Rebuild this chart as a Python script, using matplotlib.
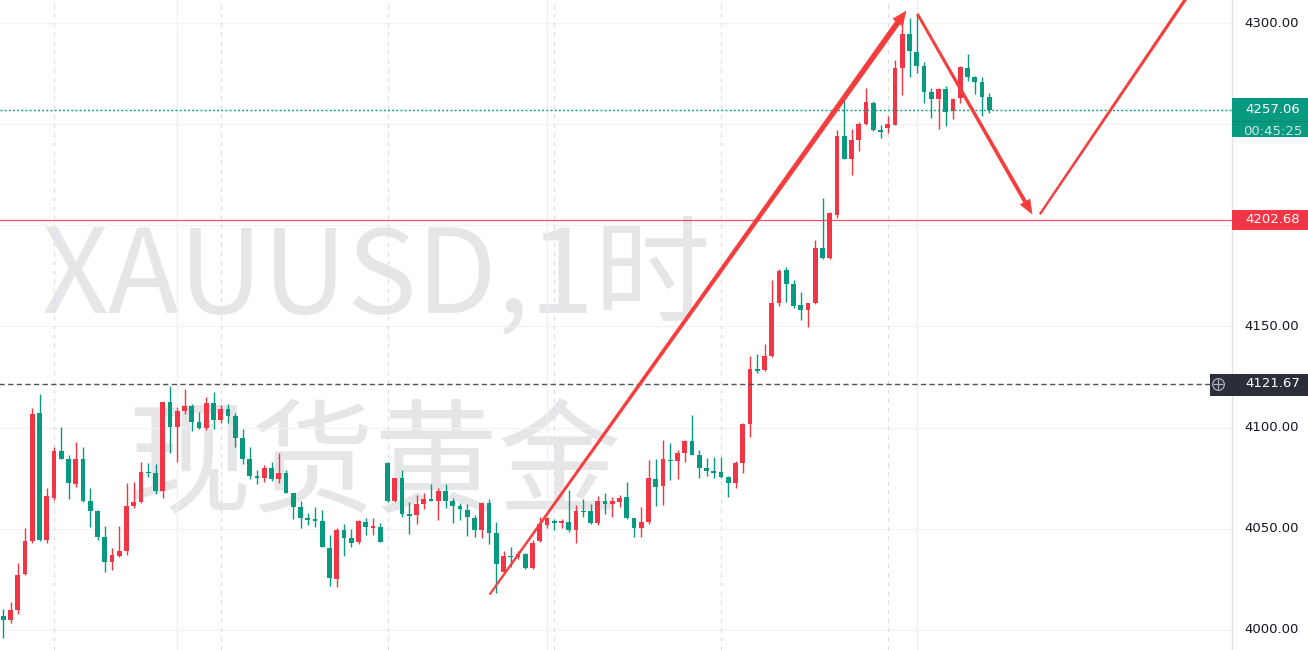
import numpy as np
import matplotlib
matplotlib.use("Agg")
import matplotlib.pyplot as plt
from matplotlib.patches import Polygon, Rectangle

plt.rcParams["lines.scale_dashes"] = False

# XAUUSD 1h candles, oldest first
opens = [4007.1, 4004.9, 4009.9, 4027.5, 4043.8, 4107.0, 4044.5, 4065.0, 4088.5, 4084.6,
         4072.3, 4084.7, 4063.6, 4059.0, 4046.1, 4033.8, 4036.4, 4039.0, 4061.3, 4063.4,
         4078.1, 4077.4, 4068.9, 4112.5, 4100.2, 4108.1, 4110.7, 4102.6, 4099.8, 4112.0,
         4103.8, 4109.1, 4105.9, 4094.7, 4084.4, 4076.1, 4075.3, 4079.9, 4074.5, 4077.8,
         4067.5, 4060.8, 4055.2, 4054.7, 4053.9, 4040.7, 4025.3, 4049.4, 4045.6, 4043.4,
         4053.6, 4050.6, 4051.1, 4082.7, 4063.6, 4075.0, 4057.2, 4056.8, 4062.5, 4064.7,
         4063.9, 4068.9, 4063.8, 4061.3, 4059.4, 4055.5, 4049.4, 4062.6, 4047.8, 4028.5,
         4036.6, 4036.2, 4037.4, 4030.8, 4044.0, 4051.9, 4054.0, 4053.0, 4053.5, 4049.4,
         4059.0, 4058.8, 4052.7, 4063.9, 4062.1, 4063.5, 4065.5, 4055.2, 4050.2, 4053.5,
         4074.8, 4071.0, 4084.0, 4083.5, 4087.3, 4093.4, 4086.4, 4079.9, 4078.7, 4078.2,
         4075.8, 4072.8, 4082.6, 4101.6, 4129.0, 4128.4, 4135.4, 4161.4, 4177.7, 4171.0,
         4160.5, 4158.1, 4161.4, 4189.0, 4183.7, 4205.0, 4244.2, 4232.8, 4242.2, 4250.1,
         4260.6, 4247.1, 4247.9, 4249.8, 4277.9, 4294.6, 4285.8, 4278.8, 4265.7, 4262.3,
         4267.2, 4256.7, 4262.8, 4277.9, 4273.1, 4271.0, 4263.3]
highs = [4010.2, 4013.7, 4032.9, 4050.6, 4109.6, 4116.6, 4070.0, 4090.6, 4100.2, 4086.5,
         4092.9, 4090.3, 4070.0, 4059.3, 4051.4, 4040.4, 4051.4, 4072.8, 4072.9, 4082.9,
         4082.7, 4082.0, 4112.8, 4120.6, 4110.4, 4119.3, 4111.5, 4107.6, 4115.3, 4117.5,
         4111.0, 4111.7, 4107.4, 4099.5, 4090.4, 4079.1, 4081.6, 4083.2, 4087.7, 4079.1,
         4067.5, 4063.8, 4058.0, 4061.0, 4059.3, 4047.0, 4050.3, 4052.4, 4049.8, 4054.4,
         4055.2, 4055.5, 4052.7, 4082.9, 4075.2, 4079.1, 4063.4, 4066.7, 4067.5, 4072.0,
         4070.0, 4072.2, 4065.1, 4062.6, 4062.1, 4056.8, 4063.4, 4064.6, 4053.5, 4039.2,
         4041.2, 4039.2, 4037.9, 4044.5, 4056.0, 4056.0, 4054.7, 4054.7, 4069.2, 4061.8,
         4064.7, 4062.3, 4066.2, 4067.5, 4065.9, 4066.7, 4073.0, 4055.4, 4060.6, 4084.0,
         4084.3, 4093.9, 4092.3, 4089.0, 4093.9, 4106.3, 4089.0, 4084.8, 4085.7, 4085.7,
         4076.1, 4083.5, 4102.5, 4135.4, 4136.4, 4141.3, 4173.0, 4178.4, 4179.6, 4173.0,
         4167.2, 4161.4, 4192.7, 4213.3, 4206.6, 4247.1, 4262.0, 4247.5, 4251.2, 4267.7,
         4261.6, 4249.6, 4254.0, 4281.7, 4303.9, 4302.3, 4304.5, 4280.9, 4267.7, 4267.7,
         4268.9, 4262.8, 4278.7, 4284.5, 4273.8, 4273.1, 4265.6]
lows = [3995.9, 4003.3, 4007.7, 4027.3, 4042.8, 4044.2, 4042.8, 4064.2, 4084.3, 4064.7,
        4070.5, 4063.4, 4051.1, 4044.5, 4028.5, 4029.6, 4035.9, 4037.1, 4060.5, 4062.9,
        4075.8, 4067.2, 4065.1, 4087.3, 4083.2, 4106.6, 4098.5, 4099.2, 4098.8, 4099.2,
        4102.5, 4102.5, 4090.6, 4082.2, 4074.5, 4072.2, 4073.3, 4073.6, 4072.8, 4067.9,
        4054.7, 4050.2, 4051.9, 4051.1, 4040.9, 4021.9, 4021.1, 4036.7, 4041.2, 4042.5,
        4047.1, 4047.0, 4043.5, 4063.4, 4063.4, 4056.0, 4047.4, 4052.2, 4059.6, 4063.7,
        4054.4, 4060.1, 4052.7, 4054.4, 4046.6, 4046.1, 4045.3, 4042.3, 4018.5, 4028.0,
        4031.3, 4034.9, 4030.1, 4030.0, 4043.6, 4050.2, 4049.4, 4050.2, 4048.6, 4042.8,
        4056.0, 4052.4, 4051.9, 4057.3, 4055.7, 4060.9, 4054.7, 4046.1, 4045.8, 4052.4,
        4061.3, 4061.8, 4074.1, 4074.6, 4083.2, 4086.5, 4075.3, 4076.1, 4074.9, 4075.3,
        4065.6, 4070.3, 4077.8, 4095.5, 4127.2, 4128.2, 4135.1, 4160.3, 4162.3, 4159.0,
        4153.2, 4149.9, 4160.9, 4183.2, 4183.5, 4203.5, 4232.6, 4224.9, 4236.9, 4249.6,
        4246.8, 4243.0, 4245.8, 4249.6, 4264.4, 4273.1, 4275.1, 4260.6, 4252.9, 4247.4,
        4249.3, 4252.6, 4260.3, 4271.5, 4264.9, 4254.2, 4255.7]
closes = [4004.8, 4009.9, 4027.3, 4044.0, 4106.8, 4044.5, 4066.2, 4088.5, 4084.5, 4072.5,
          4084.7, 4063.8, 4059.0, 4046.1, 4033.8, 4036.9, 4039.0, 4061.3, 4063.3, 4078.1,
          4077.4, 4068.9, 4112.5, 4100.2, 4108.2, 4110.7, 4102.6, 4100.0, 4112.0, 4103.8,
          4109.1, 4105.9, 4094.7, 4084.4, 4076.1, 4075.3, 4079.9, 4074.5, 4077.8, 4067.9,
          4061.0, 4055.2, 4054.5, 4054.0, 4040.9, 4025.5, 4049.4, 4045.6, 4043.2, 4053.9,
          4051.1, 4051.2, 4043.7, 4063.7, 4075.0, 4057.3, 4056.5, 4062.3, 4064.7, 4063.9,
          4068.9, 4063.9, 4061.3, 4059.6, 4055.7, 4049.4, 4062.6, 4047.8, 4032.6, 4036.6,
          4035.9, 4037.6, 4030.5, 4043.2, 4052.4, 4055.2, 4053.0, 4054.0, 4049.4, 4058.8,
          4058.2, 4052.7, 4063.7, 4062.1, 4063.7, 4065.4, 4055.2, 4050.2, 4053.5, 4074.9,
          4070.8, 4084.3, 4083.5, 4087.3, 4093.4, 4086.5, 4079.9, 4078.6, 4077.4, 4075.8,
          4072.8, 4082.7, 4101.6, 4129.0, 4128.2, 4135.4, 4161.4, 4177.6, 4171.0, 4160.3,
          4158.1, 4161.4, 4188.6, 4183.7, 4205.9, 4244.2, 4232.8, 4242.2, 4250.1, 4260.8,
          4247.1, 4246.3, 4249.9, 4277.9, 4294.6, 4286.3, 4278.8, 4265.9, 4262.3, 4267.2,
          4256.2, 4262.4, 4278.1, 4273.1, 4271.0, 4263.3, 4257.06]

price_ticks = [4000, 4050, 4100, 4150, 4200, 4250, 4300]
tick_labels = ["4000.00", "4050.00", "4100.00", "4150.00", None, None, "4300.00"]
session_breaks = [7, 30, 53, 76, 99, 122]
time_grid = [24, 75, 126]

last_price = 4257.06
countdown = "00:45:25"
level_line = 4202.68
cross_price = 4121.67

# hand drawn arrows: (bar index, price)
up_arrow = [(67.1, 4017.6), (124.5, 4305.9)]
down_arrow = [(126.1, 4304.4), (141.9, 4205.6)]
next_leg = [(143.0, 4205.6), (165.0, 4322.0)]

UP = "#f23645"      # red = rising (CN colours)
DOWN = "#089981"
DRAW = "#f43c3c"

W, H = 1308, 650
fig = plt.figure(figsize=(W / 100, H / 100), dpi=100)
fig.patch.set_facecolor("white")
ax = fig.add_axes([0, 0, 1232 / W, 1])
pax = fig.add_axes([1232 / W, 0, 76 / W, 1])

bar_px = 7.25
ax.set_xlim(-3.3 / bar_px, (1232 - 3.3) / bar_px)
ytop = 4300 + 23 / 2.0233
ybot = 4300 - 627 / 2.0233
ax.set_ylim(ybot, ytop)
upp = (ytop - ybot) / H   # price units per pixel
for a in (ax, pax):
    a.set_axis_off()
pax.set_xlim(0, 76)
pax.set_ylim(ybot, ytop)

# grid
for p in price_ticks:
    ax.axhline(p, color="#f0f2f6", lw=0.9, zorder=0.2)
for i in time_grid:
    ax.axvline(i, color="#eef0f4", lw=0.9, zorder=0.2)
for i in session_breaks:
    ax.axvline(i, color="#d9dce6", lw=0.8, ls=(0, (3.0, 3.6)), zorder=0.3)

# watermark
wm = dict(family=["Noto Sans CJK SC", "DejaVu Sans"], color="#e6e6e9",
          ha="center", va="center", transform=ax.transAxes, zorder=0.1)
ax.text(376 / 1232, 1 - 280 / H, "XAUUSD,1时", fontsize=84, **wm)
ax.text(375 / 1232, 1 - 468 / H, "现货黄金", fontsize=89, **wm)

# candles
x = np.arange(len(opens))
o, h, l, c = map(np.array, (opens, highs, lows, closes))
cols = np.where(c >= o, UP, DOWN)
ax.vlines(x, l, h, colors=cols, lw=1.0, zorder=2)
bottom = np.minimum(o, c)
height = np.maximum(np.abs(c - o), upp * 1.2)
ax.bar(x, height, bottom=bottom, width=0.66, color=cols, lw=0, zorder=3)

# horizontal lines
ax.axhline(level_line, color=UP, lw=0.9, alpha=0.85, zorder=4)
ax.axhline(last_price, color=DOWN, lw=1.0, ls=(0, (1.4, 1.6)), zorder=4)
ax.plot([-1, (1210 - 3.3) / bar_px], [cross_price] * 2, color="#50535e", lw=1.0,
        ls=(0, (3.8, 2.4)), zorder=4, clip_on=False)


def stroke(p0, p1, w0, w1, head=None):
    t = ax.transData
    a = t.transform(p0)
    b = t.transform(p1)
    d = (b - a) / np.hypot(*(b - a))
    n = np.array([-d[1], d[0]])
    end = b - d * head[0] * 0.6 if head else b
    body = [a + n * w0 / 2, end + n * w1 / 2, end - n * w1 / 2, a - n * w0 / 2]
    inv = t.inverted()
    ax.add_patch(Polygon(inv.transform(body), closed=True, fc=DRAW, ec=DRAW, lw=0.4, zorder=6))
    if head:
        hl, hw = head
        base = b - d * hl
        tri = [b, base + n * hw / 2, base - n * hw / 2]
        ax.add_patch(Polygon(inv.transform(tri), closed=True, fc=DRAW, ec=DRAW, lw=0.4, zorder=6))


stroke(up_arrow[0], up_arrow[1], 1.6, 5.2, head=(14, 12))
stroke(down_arrow[0], down_arrow[1], 2.2, 3.4, head=(14, 11))
stroke(next_leg[0], next_leg[1], 1.8, 2.8)

# price scale
pax.axvline(0, color="#e0e3eb", lw=1.0, clip_on=False)
lab = dict(family="DejaVu Sans", fontsize=9.5, va="center", ha="left")
for p, t in zip(price_ticks, tick_labels):
    if t:
        pax.text(12, p, t, color="#131722", **lab)

# last price + countdown
pax.add_patch(Rectangle((0, last_price - 27 * upp), 76, 39 * upp, fc=DOWN, ec="none", zorder=5))
pax.plot([0, 76], [last_price - 11.5 * upp] * 2, color="#07876f", lw=0.6, zorder=6)
pax.text(13, last_price, f"{last_price:.2f}", color="white", zorder=7, **lab)
pax.text(11.5, last_price - 21.5 * upp, countdown, color="white", alpha=0.78, zorder=7, **lab)

# level label
pax.add_patch(Rectangle((0, level_line - 10 * upp), 76, 20 * upp, fc=UP, ec="none", zorder=5))
pax.text(13, level_line, f"{level_line:.2f}", color="white", zorder=7, **lab)

# crosshair label
pax.add_patch(Rectangle((-22, cross_price - 12 * upp), 98, 22 * upp, fc="#2a2e39", ec="none",
                        zorder=5, clip_on=False))
pax.plot(-13.7, cross_price, marker="o", ms=8.4, mfc="none", mec="#b2b5be", mew=0.9,
         zorder=7, clip_on=False)
pax.plot(-13.7, cross_price, marker="+", ms=6.5, mec="#b2b5be", mew=0.9, zorder=7, clip_on=False)
pax.text(13, cross_price, f"{cross_price:.2f}", color="white", zorder=7, **lab)

fig.savefig("out.png", dpi=100)
